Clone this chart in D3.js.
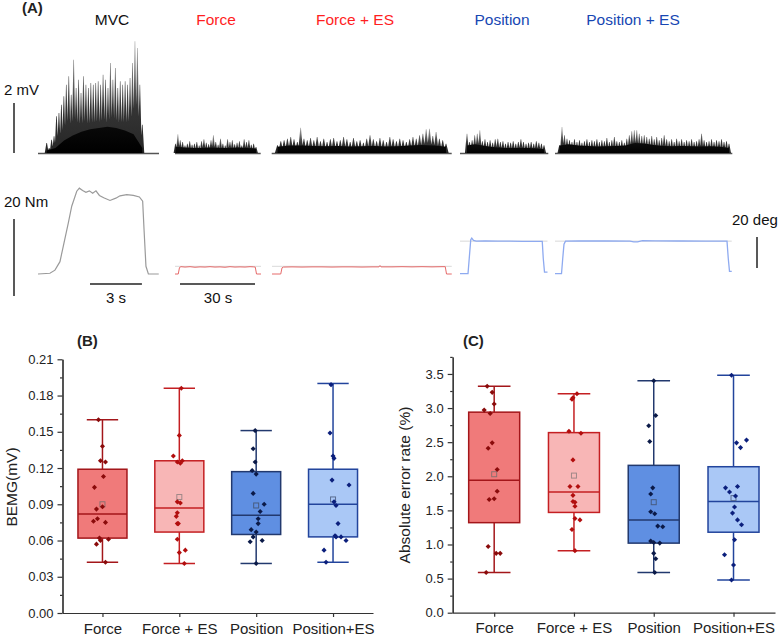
<!DOCTYPE html>
<html>
<head>
<meta charset="utf-8">
<script src="https://cdn.jsdelivr.net/npm/d3@7"></script>
<style>
  body { margin: 0; background: #fff; }
  svg { display: block; font-family: "Liberation Sans", Arial, sans-serif; }
</style>
</head>
<body>
<svg id="fig" width="778" height="636"></svg>
<script>
// ---- panel A : rectified EMG (mV), one value per spike
const mvcEmgPeaks = [0.4,0.2,0.53,0.67,1.47,1.6,1.93,2.27,2.73,3.07,2.33,3.73,2.6,2.93,2.4,3.07,2.73,2.6,2.8,2.73,2.8,2.87,2.73,3.13,2.93,2.6,3.6,2.93,3.4,2.6,2.87,2.73,2.87,2.73,3.0,3.6,4.47,4.2,2.73,1.13];
const mvcEmgCore = [0.1,0.2,0.5,0.7,0.85,0.95,1.0,1.05,1.0,0.9,0.75,0.2];
const forceEmgPeaks = [0.37,0.75,0.51,0.44,0.3,0.37,0.47,0.33,0.37,0.44,0.3,0.47,0.55,0.41,0.35,0.51,0.71,0.44,0.33,0.57,0.37,0.3,0.55,0.44,0.51,0.35,0.41,0.47,0.3,0.55,0.44,0.51,0.33,0.37,0.24];
const forceEmgCore = [0.25,0.22,0.2,0.2,0.22,0.2,0.2,0.22,0.2,0.18];
const forceEsEmgPeaks = [0.31,0.47,0.51,0.57,0.64,0.55,0.44,1.01,0.57,0.51,0.6,0.51,0.64,0.47,0.57,0.44,0.55,0.6,0.47,0.51,0.64,0.55,0.44,0.6,0.47,0.51,0.41,0.57,0.71,0.55,0.47,0.6,0.51,0.44,0.64,0.55,0.47,0.57,0.51,0.44,0.55,0.64,0.57,0.71,0.77,0.95,0.97,0.68,0.84,0.57,0.51,0.37];
const forceEsEmgCore = [0.25,0.3,0.3,0.28,0.27,0.28,0.26,0.27,0.28,0.26,0.27,0.3,0.32,0.3,0.25];
const positionEmgPeaks = [0.77,0.44,0.51,0.71,0.77,0.91,0.47,0.55,0.44,0.51,0.41,0.55,0.57,0.44,0.47,0.37,0.44,0.41,0.47,0.37,0.44,0.55,0.44,0.37,0.41,0.44,0.37,0.47,0.41,0.37,0.31];
const positionEmgCore = [0.3,0.35,0.3,0.25,0.22,0.2,0.2,0.2,0.2,0.18,0.15];
const positionEsEmgPeaks = [0.31,1.04,0.71,0.57,0.51,0.44,0.55,0.44,0.51,0.41,0.47,0.55,0.44,0.51,0.47,0.55,0.44,0.51,0.47,0.6,0.44,0.51,0.64,0.47,0.44,0.51,0.41,0.57,0.71,0.87,0.91,0.91,0.77,0.68,0.71,0.64,0.57,0.68,0.55,0.64,0.51,0.6,0.71,0.55,0.47,0.55,0.44,0.57,0.47,0.55,0.44,0.51,0.47,0.55,0.44,0.47,0.55,0.77,0.51,0.44,0.47,0.55,0.44,0.51,0.47,0.55,0.44,0.47,0.37];
const positionEsEmgCore = [0.3,0.35,0.3,0.28,0.26,0.27,0.28,0.3,0.4,0.38,0.32,0.28,0.27,0.28,0.27,0.26,0.27,0.25,0.2];

// ---- panel A : torque (Nm) / angle (deg) vs time (s)
const mvcTime = [0,0.69,0.98,1.27,1.46,1.75,1.95,2.24,2.39,2.58,2.77,2.97,3.16,3.35,3.55,3.8,4.16,4.5,4.74,5.13,5.51,5.86,6.05,6.13,6.24,6.38,6.98];
const mvcTorque = [0,0.2,1.0,3.2,7.2,13.2,17.6,21.5,22.3,21.7,21.2,21.6,21.0,21.6,20.4,19.8,19.1,19.7,20.3,20.6,20.4,20.0,18.9,11.5,2.0,0,0];
const forceTime = [0,1.3,1.8,2.4,4,6,8,10,12,14,16,18,20,22,24,26,28,30,31.5,32.1,32.6,34.4];
const forceTorque = [0,0,1.7,1.9,1.8,1.9,1.75,1.85,1.8,1.9,1.8,1.85,1.75,1.9,1.8,1.85,1.8,1.9,1.85,1.8,0,0];
const forceEsTime = [0,3.5,4.0,4.6,8,12,16,20,24,28,32,36,40,42.8,43.2,43.6,48,52,56,60,64,68,69.3,69.8,71.9];
const forceEsTorque = [0,0,1.6,1.8,1.85,1.8,1.85,1.85,1.8,1.85,1.85,1.8,1.85,1.85,2.2,1.85,1.85,1.9,1.85,1.9,1.85,1.9,1.9,0,0];
const positionTime = [0,3.2,3.8,4.3,4.7,5.4,6.5,10,15,20,25,30,32.9,33.3,33.8,35];
const positionAngle = [0,0,12,22,23,21.5,21,21.1,21,21,20.9,20.9,20.9,10,1,1];
const positionEsTime = [0,2.6,3.1,3.6,4.2,10,20,30,31.5,33,35,40,50,60,68.8,69.3,69.8,70.7];
const positionEsAngle = [0,0,10,19,21,21.2,21.1,21,20.5,20.5,21.4,21.2,21.1,21,21,10,1.5,1.5];
const forceTarget = 2.0;   // Nm
const positionTarget = 21; // deg

// ---- panels B and C
const groups = ["Force", "Force + ES", "Position", "Position+ES"];

const bemgHi = [0.160, 0.186, 0.151, 0.190];
const bemgQ3 = [0.119, 0.126, 0.117, 0.119];
const bemgMedian = [0.082, 0.087, 0.081, 0.090];
const bemgQ1 = [0.062, 0.067, 0.065, 0.063];
const bemgLo = [0.042, 0.041, 0.041, 0.042];
const bemgMean = [0.090, 0.096, 0.089, 0.094];
const bemgPoints = [
  [0.160,0.138,0.126,0.125,0.113,0.104,0.088,0.086,0.078,0.076,0.075,0.062,0.060,0.061,0.057,0.042],
  [0.186,0.147,0.130,0.125,0.126,0.124,0.092,0.091,0.083,0.080,0.074,0.074,0.061,0.052,0.050,0.041],
  [0.151,0.136,0.125,0.118,0.115,0.099,0.090,0.084,0.078,0.074,0.069,0.067,0.063,0.060,0.059,0.041],
  [0.189,0.149,0.130,0.128,0.110,0.106,0.092,0.089,0.074,0.064,0.063,0.063,0.060,0.052,0.042]
];
// horizontal jitter of each dot, px from the box centre
const bemgJitter = [
  [-4,0,-2,3,1,-8,0,-6,-5,-9,3,-3,-2,6,-6,3],
  [2,0,-6,-2,3,1,-2,1,-2,-3,-2,-1,-2,6,0,5],
  [-1,-3,-1,-4,0,-3,8,4,2,2,-5,0,-3,6,-6,0],
  [-2,-3,0,1,-1,16,1,3,5,2,3,8,13,-9,-7]
];

const errHi = [3.32, 3.21, 3.40, 3.48];
const errQ3 = [2.94, 2.64, 2.16, 2.14];
const errMedian = [1.94, 1.77, 1.36, 1.63];
const errQ1 = [1.32, 1.47, 1.02, 1.18];
const errLo = [0.59, 0.91, 0.59, 0.48];
const errMean = [2.03, 2.01, 1.62, 1.68];
const errPoints = [
  [3.32,3.23,3.06,2.97,2.92,2.49,2.41,2.10,1.78,1.66,1.67,0.97,0.87,0.87,0.59],
  [3.21,3.13,3.15,2.66,2.63,2.24,1.85,1.85,1.72,1.63,1.62,1.56,1.38,1.36,1.22,0.91],
  [3.40,2.89,2.74,2.51,1.83,1.74,1.48,1.45,1.27,1.26,1.05,1.03,1.02,0.87,0.79,0.59],
  [3.48,2.49,2.53,2.42,1.83,1.85,1.77,1.71,1.55,1.46,1.36,1.29,1.07,0.85,0.70,0.48]
];
const errJitter = [
  [-7,-2,0,-10,-4,-2,-6,3,3,-5,0,-6,2,6,-8],
  [3,-2,-1,-5,7,-1,-4,4,-1,-1,1,1,1,6,-2,1],
  [0,2,-5,-4,-1,-3,-3,1,4,9,-3,0,6,0,2,1],
  [-2,3,13,7,-8,4,-4,2,1,-1,4,8,1,-9,0,-2]
];

const boxFill = ["#f07a7a", "#f8b6b6", "#5f8fe2", "#aac8f6"];
const boxStroke = ["#a3161a", "#c41f22", "#22396e", "#22449c"];
const dotColor = ["#8a0b0b", "#b20e0e", "#0b1a48", "#0b1f7c"];
const meanStroke = ["#8c7070", "#a08888", "#485c80", "#5a6c90"];

const svg = d3.select("#fig");

// spikes: black at the foot, fading to grey at the tips
const grad = svg.append("defs").append("linearGradient")
  .attr("id", "spikeFade").attr("x1", 0).attr("x2", 0).attr("y1", 1).attr("y2", 0);
grad.append("stop").attr("offset", 0).attr("stop-color", "#000");
grad.append("stop").attr("offset", 0.4).attr("stop-color", "#111");
grad.append("stop").attr("offset", 1).attr("stop-color", "#9a9a9a");

// ================= panel A =================
svg.append("text").attr("x", 22).attr("y", 13).attr("font-size", 15)
  .attr("font-weight", "bold").attr("fill", "#222").text("(A)");

const titles = [
  { text: "MVC", x: 112, color: "#111" },
  { text: "Force", x: 216, color: "#ff1f1f" },
  { text: "Force + ES", x: 355, color: "#ff1f1f" },
  { text: "Position", x: 502, color: "#1747b3" },
  { text: "Position + ES", x: 633, color: "#1747b3" }
];
svg.append("g").selectAll("text").data(titles).join("text")
  .attr("x", (d) => d.x).attr("y", 25).attr("text-anchor", "middle")
  .attr("font-size", 15.5).attr("fill", (d) => d.color).text((d) => d.text);

// EMG
const emgBase = 153;
const mv = d3.scaleLinear().domain([0, 2]).range([emgBase, emgBase - 50]);
const emgSegments = [
  { peaks: mvcEmgPeaks, core: mvcEmgCore, base: [38, 159], span: [46.7, 142.3] },
  { peaks: forceEmgPeaks, core: forceEmgCore, base: [175, 260.7], span: [175.5, 256] },
  { peaks: forceEsEmgPeaks, core: forceEsEmgCore, base: [271.7, 451.7], span: [277.5, 446] },
  { peaks: positionEmgPeaks, core: positionEmgCore, base: [460, 548.3], span: [467, 544] },
  { peaks: positionEsEmgPeaks, core: positionEsEmgCore, base: [555, 732.3], span: [559.5, 729] }
];
const emg = svg.append("g").attr("id", "emg");
emgSegments.forEach((seg) => {
  emg.append("line").attr("x1", seg.base[0]).attr("x2", seg.base[1])
    .attr("y1", emgBase + 0.5).attr("y2", emgBase + 0.5)
    .attr("stroke", "#555").attr("stroke-width", 1.3);

  const xc = d3.scaleLinear().domain([0, seg.core.length - 1]).range(seg.span);
  emg.append("path").datum(seg.core)
    .attr("d", d3.area().x((d, i) => xc(i)).y0(emgBase).y1((d) => mv(d)))
    .attr("fill", "#000");

  const xs = d3.scaleLinear().domain([0, seg.peaks.length - 1]).range(seg.span);
  const w = (xs(1) - xs(0)) * 0.8;
  const spikes = d3.path();
  seg.peaks.forEach((p, i) => {
    spikes.moveTo(xs(i) - w, emgBase);
    spikes.lineTo(xs(i) - 0.3, mv(p));
    spikes.lineTo(xs(i) + 0.3, mv(p));
    spikes.lineTo(xs(i) + w, emgBase);
    spikes.closePath();
  });
  emg.append("path").attr("d", spikes.toString())
    .attr("fill", "url(#spikeFade)").attr("fill-opacity", 0.85);
});

// torque / angle
const nm = d3.scaleLinear().domain([0, 20]).range([274, 274 - 77]);
const deg = d3.scaleLinear().domain([0, 20]).range([273.7, 273.7 - 31]);
const traces = [
  { t: mvcTime, v: mvcTorque, x0: 38, pps: 17.3, y: nm, color: "#9a9a9a", width: 1.2 },
  { t: forceTime, v: forceTorque, x0: 175, pps: 2.5, y: nm, color: "#e66a6a", width: 1, target: forceTarget },
  { t: forceEsTime, v: forceEsTorque, x0: 272, pps: 2.5, y: nm, color: "#e66a6a", width: 1, target: forceTarget },
  { t: positionTime, v: positionAngle, x0: 460, pps: 2.5, y: deg, color: "#8eaaf0", width: 1.3, target: positionTarget },
  { t: positionEsTime, v: positionEsAngle, x0: 555, pps: 2.5, y: deg, color: "#8eaaf0", width: 1.3, target: positionTarget }
];
const tq = svg.append("g").attr("id", "torque");
traces.forEach((tr) => {
  const tEnd = tr.t[tr.t.length - 1];
  const x = d3.scaleLinear().domain([0, tEnd]).range([tr.x0, tr.x0 + tEnd * tr.pps]);
  if (tr.target !== undefined) {
    tq.append("line").attr("x1", x(0)).attr("x2", x(tEnd))
      .attr("y1", tr.y(tr.target)).attr("y2", tr.y(tr.target))
      .attr("stroke", "#d9d9d9").attr("stroke-width", 1);
  }
  tq.append("path").datum(d3.range(tr.t.length))
    .attr("d", d3.line().x((i) => x(tr.t[i])).y((i) => tr.y(tr.v[i])))
    .attr("fill", "none").attr("stroke", tr.color).attr("stroke-width", tr.width);
});

// scale bars
const bars = svg.append("g").attr("stroke", "#222").attr("stroke-width", 1.5);
bars.append("line").attr("x1", 14).attr("x2", 14).attr("y1", mv(0)).attr("y2", mv(2));
bars.append("line").attr("x1", 14).attr("x2", 14).attr("y1", 296).attr("y2", 296 - (nm(0) - nm(20)));
bars.append("line").attr("x1", 757).attr("x2", 757).attr("y1", 268).attr("y2", 268 - (deg(0) - deg(20)));
bars.append("line").attr("x1", 90).attr("x2", 90 + 3 * 17.3).attr("y1", 284).attr("y2", 284);
bars.append("line").attr("x1", 180).attr("x2", 180 + 30 * 2.5).attr("y1", 284).attr("y2", 284);

const labels = [
  { text: "2 mV", x: 4, y: 95, anchor: "start" },
  { text: "20 Nm", x: 4, y: 207, anchor: "start" },
  { text: "20 deg", x: 732, y: 225, anchor: "start" },
  { text: "3 s", x: 116, y: 303, anchor: "middle" },
  { text: "30 s", x: 218, y: 303, anchor: "middle" }
];
svg.append("g").selectAll("text").data(labels).join("text")
  .attr("x", (d) => d.x).attr("y", (d) => d.y).attr("text-anchor", (d) => d.anchor)
  .attr("font-size", 15).attr("fill", "#111").text((d) => d.text);

// ================= panels B and C =================
const diamond = {
  draw(ctx, size) {
    const r = Math.sqrt(size) * 0.62;
    ctx.moveTo(0, -r); ctx.lineTo(r, 0); ctx.lineTo(0, r); ctx.lineTo(-r, 0); ctx.closePath();
  }
};

function boxPanel(o) {
  const g = svg.append("g");
  const x = d3.scalePoint().domain(groups).range(o.xRange).padding(0.52);
  const y = d3.scaleLinear().domain(o.yDomain).range(o.yRange);

  const yMinor = g.append("g").attr("transform", `translate(${o.xRange[0]},0)`)
    .call(d3.axisLeft(y).tickValues(o.minor).tickSize(2.5).tickSizeOuter(0).tickFormat(""));
  const yAxis = g.append("g").attr("transform", `translate(${o.xRange[0]},0)`)
    .call(d3.axisLeft(y).tickValues(o.major).tickSize(5).tickSizeOuter(0).tickPadding(4).tickFormat(o.fmt));
  const xAxis = g.append("g").attr("transform", `translate(0,${o.yRange[0]})`)
    .call(d3.axisBottom(x).tickSize(4).tickSizeOuter(0).tickPadding(6));
  [yMinor, yAxis, xAxis].forEach((a) => {
    a.selectAll("path,line").attr("stroke", "#333").attr("stroke-width", 1.2);
  });
  yAxis.selectAll("text").attr("font-size", 13).attr("fill", "#222")
    .attr("font-family", "Liberation Sans, Arial, sans-serif");
  xAxis.selectAll("text").attr("font-size", 15).attr("fill", "#222")
    .attr("font-family", "Liberation Sans, Arial, sans-serif");

  const bw = o.boxWidth;
  const cap = bw * 0.64;
  groups.forEach((name, i) => {
    const cx = x(name);
    const gg = g.append("g").attr("stroke", boxStroke[i]).attr("stroke-width", 1.5);
    gg.append("line").attr("x1", cx).attr("x2", cx).attr("y1", y(o.lo[i])).attr("y2", y(o.hi[i]));
    gg.append("line").attr("x1", cx - cap / 2).attr("x2", cx + cap / 2).attr("y1", y(o.hi[i])).attr("y2", y(o.hi[i]));
    gg.append("line").attr("x1", cx - cap / 2).attr("x2", cx + cap / 2).attr("y1", y(o.lo[i])).attr("y2", y(o.lo[i]));
    gg.append("rect").attr("x", cx - bw / 2).attr("width", bw)
      .attr("y", y(o.q3[i])).attr("height", y(o.q1[i]) - y(o.q3[i]))
      .attr("fill", boxFill[i]);
    gg.append("line").attr("x1", cx - bw / 2).attr("x2", cx + bw / 2)
      .attr("y1", y(o.median[i])).attr("y2", y(o.median[i]));
    gg.append("rect").attr("x", cx - 2.5).attr("y", y(o.mean[i]) - 2.5)
      .attr("width", 5).attr("height", 5).attr("fill", "none")
      .attr("stroke", meanStroke[i]).attr("stroke-width", 1);
    g.append("g").selectAll("path").data(o.points[i]).join("path")
      .attr("d", d3.symbol().type(diamond).size(17))
      .attr("transform", (d, j) => `translate(${cx + o.jitter[i][j]},${y(d)})`)
      .attr("fill", dotColor[i]);
  });

  g.append("text").attr("x", o.tag[0]).attr("y", o.tag[1]).attr("font-size", 15)
    .attr("font-weight", "bold").attr("fill", "#222").text(o.tagText);
  g.append("text")
    .attr("transform", `translate(${o.title[0]},${o.title[1]}) rotate(-90)`)
    .attr("text-anchor", "middle").attr("font-size", 15.5).attr("fill", "#222")
    .text(o.titleText);
}

boxPanel({
  xRange: [62.5, 373], yRange: [613, 359.3], yDomain: [0, 0.21],
  major: d3.range(0, 0.2101, 0.03), minor: d3.range(0.015, 0.21, 0.03), fmt: d3.format(".2f"),
  boxWidth: 49,
  hi: bemgHi, q3: bemgQ3, median: bemgMedian, q1: bemgQ1, lo: bemgLo, mean: bemgMean,
  points: bemgPoints, jitter: bemgJitter,
  tag: [77, 346], tagText: "(B)", title: [17, 487], titleText: "BEMG(mV)"
});

boxPanel({
  xRange: [452.7, 775], yRange: [612.7, 356.9], yDomain: [0, 3.75],
  major: d3.range(0, 3.51, 0.5), minor: d3.range(0.25, 3.76, 0.5), fmt: d3.format(".1f"),
  boxWidth: 51,
  hi: errHi, q3: errQ3, median: errMedian, q1: errQ1, lo: errLo, mean: errMean,
  points: errPoints, jitter: errJitter,
  tag: [463, 346], tagText: "(C)", title: [410, 485], titleText: "Absolute error rate (%)"
});
</script>
</body>
</html>
